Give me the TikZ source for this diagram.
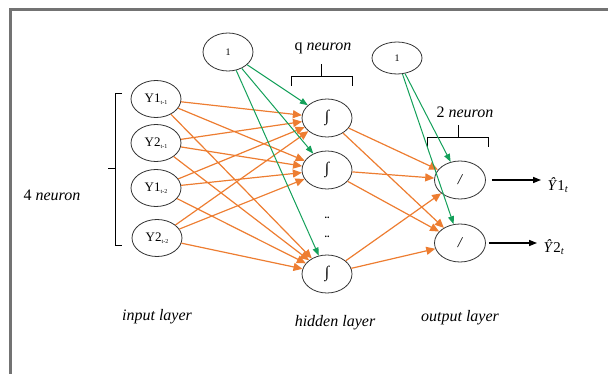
\documentclass[tikz,border=0pt]{standalone}
\usepackage{fontspec}
\setmainfont{Liberation Serif}
\usetikzlibrary{shapes.geometric,arrows.meta}
\definecolor{wireorange}{RGB}{237,125,49}
\definecolor{wiregreen}{RGB}{20,160,90}
\newcommand{\lag}[1]{\raisebox{-1.5pt}{\fontsize{6}{6}\selectfont t-#1}}

\begin{document}
\begin{tikzpicture}[x=1pt,y=-1pt,
	neuron/.style={ellipse, draw=black!80, line width=0.8pt, minimum width=50pt, minimum height=37pt, inner sep=0pt},
	wire/.style={wireorange, line width=1.2pt, -{Triangle[length=9pt,width=8pt]}},
	biaswire/.style={wiregreen, line width=1pt, -{Triangle[length=8pt,width=6pt]}},
	outwire/.style={black, line width=1.2pt, -{Triangle[length=8pt,width=6pt]}},
	lbl/.style={font=\fontsize{16}{18}\selectfont}]
	%%%%% START %%%%%
	
	\useasboundingbox (0,0) rectangle (608,374);
	\draw[line width=2.5pt, color=black!55] (10.5,374) -- (10.5,9.7) -- (608,9.7);
	
	% input layer
	\node[neuron, font=\fontsize{13}{13}\selectfont] (x1) at (156,99) {Y1\lag{1}};
	\node[neuron, font=\fontsize{13}{13}\selectfont] (x2) at (156,143) {Y2\lag{1}};
	\node[neuron, font=\fontsize{13}{13}\selectfont] (x3) at (156,188) {Y1\lag{2}};
	\node[neuron, font=\fontsize{13}{13}\selectfont] (x4) at (157,238) {Y2\lag{2}};
	
	\draw[line width=0.8pt] (122,93) -- (115,93) -- (115,245) -- (122,245);
	\draw[line width=0.8pt] (115,168) -- (108,168);
	\node[lbl] (inneur) at (52,195) {4 \textit{neuron}};
	
	% bias nodes
	\node[neuron, minimum height=38pt, font=\fontsize{10}{10}\selectfont] (b1) at (228,52) {1};
	\node[neuron, minimum height=32pt, font=\fontsize{10}{10}\selectfont] (b2) at (397,58) {1};
	
	% hidden layer
	\node[neuron, minimum height=38pt, font=\fontsize{16}{16}\selectfont] (h1) at (327,118) {∫};
	\node[neuron, minimum height=38pt, font=\fontsize{16}{16}\selectfont] (h2) at (327,170) {∫};
	\node[neuron, minimum height=38pt, font=\fontsize{16}{16}\selectfont] (h3) at (327,274) {∫};
	\node[font=\bfseries] (dots1) at (327,218) {..};
	\node[font=\bfseries] (dots2) at (327,237) {..};
	
	\node[lbl] (hidneur) at (323,48) {q \textit{neuron}};
	\draw[line width=0.8pt] (291,86) -- (291,76) -- (352,76) -- (352,86);
	\draw[line width=0.8pt] (321,76) -- (321,64);
	
	% output layer
	\node[neuron, minimum width=51pt, minimum height=38pt, font=\fontsize{15}{15}\selectfont\itshape] (o1) at (460,180) {/};
	\node[neuron, minimum width=51pt, minimum height=38pt, font=\fontsize{15}{15}\selectfont\itshape] (o2) at (460,243) {/};
	
	\node[lbl] (outneur) at (465,112) {2 \textit{neuron}};
	\draw[line width=0.8pt] (427,147) -- (427,137) -- (488,137) -- (488,147);
	\draw[line width=0.8pt] (458,137) -- (458,125);
	
	\node[font=\fontsize{15}{15}\selectfont] (yhat1) at (558,185) {\textit{Ŷ}1\textsubscript{\textit{t}}};
	\node[font=\fontsize{15}{15}\selectfont] (yhat2) at (554,247) {\textit{Ŷ}2\textsubscript{\textit{t}}};
	
	% layer names
	\node[lbl, font=\fontsize{16}{18}\selectfont\itshape] (inname) at (157,317) {input layer};
	\node[lbl, font=\fontsize{16}{18}\selectfont\itshape] (hidname) at (335,323) {hidden layer};
	\node[lbl, font=\fontsize{16}{18}\selectfont\itshape] (outname) at (460,318) {output layer};
	
	% input -> hidden
	\draw[wire] (x1) -- (h1);
	\draw[wire] (x1) -- (h2);
	\draw[wire] (x1) -- (h3);
	\draw[wire] (x2) -- (h1);
	\draw[wire] (x2) -- (h2);
	\draw[wire] (x2) -- (h3);
	\draw[wire] (x3) -- (h1);
	\draw[wire] (x3) -- (h2);
	\draw[wire] (x3) -- (h3);
	\draw[wire] (x4) -- (h1);
	\draw[wire] (x4) -- (h2);
	\draw[wire] (x4) -- (h3);
	
	% hidden -> output
	\draw[wire] (h1) -- (o1);
	\draw[wire] (h1) -- (o2);
	\draw[wire] (h2) -- (o1);
	\draw[wire] (h2) -- (o2);
	\draw[wire] (h3) -- (o1);
	\draw[wire] (h3) -- (o2);
	
	% bias
	\draw[biaswire] (b1) -- (h1);
	\draw[biaswire] (b1) -- (h2);
	\draw[biaswire] (b1) -- (h3);
	\draw[biaswire] (b2) -- (o1);
	\draw[biaswire] (b2) -- (o2);
	
	% outputs
	\draw[outwire, shorten <=6pt, shorten >=3pt] (o1.east) -- (o1.east -| yhat1.west);
	\draw[outwire, shorten <=3pt, shorten >=3pt] (o2.east) -- (o2.east -| yhat2.west);
	
	%%%%% END %%%%%
\end{tikzpicture}
\end{document}
